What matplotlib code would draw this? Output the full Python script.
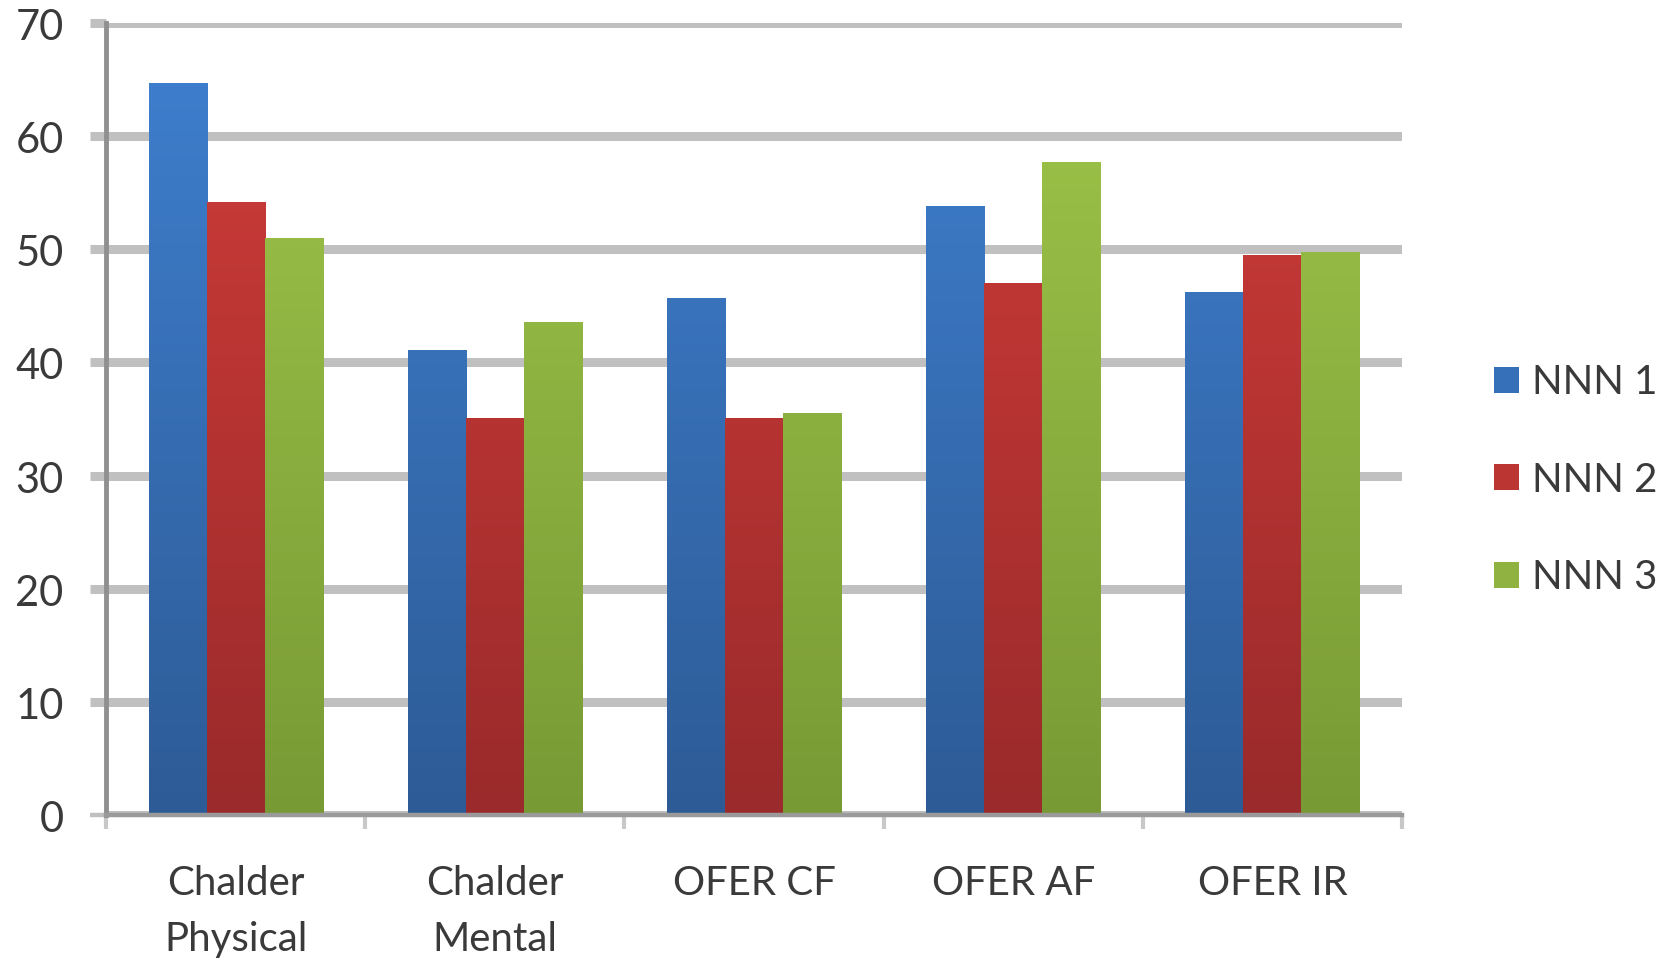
import numpy as np
import matplotlib
matplotlib.use("Agg")
import matplotlib.pyplot as plt
import matplotlib.transforms as mtransforms
from matplotlib.colors import LinearSegmentedColormap

categories = ["Chalder\nPhysical", "Chalder\nMental", "OFER CF", "OFER AF", "OFER IR"]
series_names = ["NNN 1", "NNN 2", "NNN 3"]
nnn1 = [64.7, 41.1, 45.7, 53.8, 46.2]
nnn2 = [54.2, 35.1, 35.1, 47.0, 49.5]
nnn3 = [51.0, 43.6, 35.5, 57.7, 49.8]
y_ticks = [0, 10, 20, 30, 40, 50, 60, 70]

top_colors = ["#3f80d0", "#d13d39", "#a0c64a"]
bottom_colors = ["#2d5b96", "#9a2a2b", "#789a35"]
mid_colors = ["#3670b8", "#bb3533", "#8fb240"]

plt.rcParams['font.family'] = ['Lato', 'DejaVu Sans']

fig = plt.figure(figsize=(16.75, 9.6), dpi=100)
ax = fig.add_axes([106/1675, 1 - 815/960, (1402 - 106)/1675, (815 - 23)/960])

x = np.arange(len(categories))
w = 0.224
data = [nnn1, nnn2, nnn3]
handles = []
for i, vals in enumerate(data):
    bars = ax.bar(x + (i - 1) * w, vals, width=w, color=mid_colors[i],
                  edgecolor='none', zorder=3, label=series_names[i])
    handles.append(bars)
    cmap = LinearSegmentedColormap.from_list("g%d" % i, [bottom_colors[i], top_colors[i]])
    grad = np.linspace(0, 1, 256).reshape(-1, 1)
    for b in bars:
        x0 = b.get_x()
        im = ax.imshow(grad, cmap=cmap, origin='lower', aspect='auto',
                       extent=[x0, x0 + b.get_width(), 0, 70], zorder=4,
                       interpolation='bicubic')
        im.set_clip_path(b)

ax.set_xlim(-0.5, len(categories) - 0.5)
ax.set_ylim(0, 70)

# grid
ax.set_yticks(y_ticks)
ax.yaxis.grid(True, color='#c0c0c0', linewidth=6.5, zorder=1)
ax.set_axisbelow(True)
ax.tick_params(axis='y', length=11.5, width=6.5, color='#c0c0c0',
               pad=19, labelsize=30, labelcolor='#3a3a3a')
offset = mtransforms.ScaledTranslation(0, -5/100, fig.dpi_scale_trans)
for lab in ax.get_yticklabels():
    lab.set_verticalalignment('center')
    lab.set_transform(lab.get_transform() + offset)

ax.set_xticks(x)
ax.set_xticklabels(categories, fontsize=29, color='#3a3a3a', linespacing=1.62)
ax.tick_params(axis='x', length=0, pad=36)
ax.set_xticks(np.arange(-0.5, len(categories)), minor=True)
ax.tick_params(axis='x', which='minor', length=10, width=3, color='#c8c8c8')

for s in ['top', 'right']:
    ax.spines[s].set_visible(False)
ax.spines['left'].set_color('#909090')
ax.spines['left'].set_linewidth(3.5)
ax.spines['left'].set_zorder(5)
ax.spines['bottom'].set_color('#9a9a9a')
ax.spines['bottom'].set_linewidth(3.2)
ax.spines['bottom'].set_zorder(5)
# extend the baseline to the left like the reference
ax.yaxis.get_major_ticks()[0].tick1line.set_color('#9a9a9a')
ax.yaxis.get_major_ticks()[0].tick1line.set_markeredgewidth(3.2)

leg = ax.legend(handles=handles, labels=series_names, loc='center left',
                bbox_to_anchor=(1494/1675, 0.5), bbox_transform=fig.transFigure,
                frameon=False, fontsize=29, handlelength=0.62, handleheight=0.62,
                handletextpad=0.32, labelspacing=1.5, borderpad=0, borderaxespad=0)
for t in leg.get_texts():
    t.set_color('#3a3a3a')

fig.savefig("out.png", dpi=100)
